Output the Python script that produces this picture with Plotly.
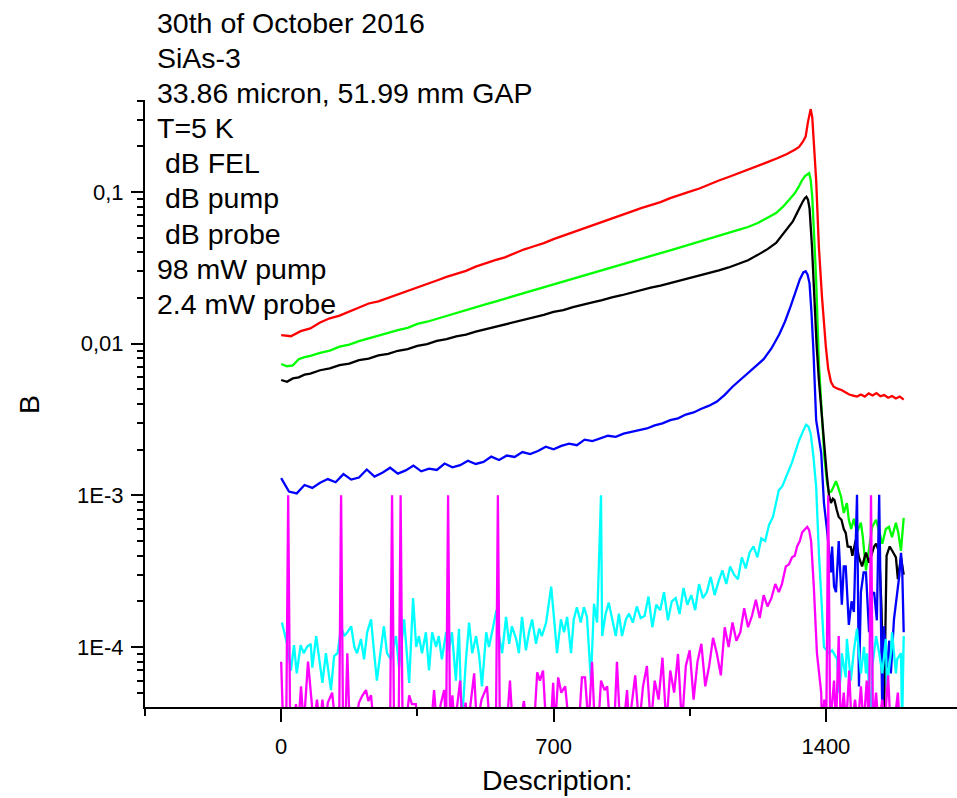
import plotly.graph_objects as go

# ---------------- data ----------------
red_x = [0, 25, 50, 75, 100, 125, 150, 175, 200, 225, 250, 275, 300, 325, 350, 375, 400, 425, 450, 475,
         500, 525, 550, 575, 600, 625, 650, 675, 700, 725, 750, 775, 800, 825, 850, 875, 900, 925, 950, 975,
         1000, 1025, 1050, 1075, 1100, 1125, 1150, 1175, 1200, 1225, 1250, 1275, 1300, 1320, 1331, 1340, 1348,
         1354, 1358, 1361, 1365, 1369, 1375, 1382, 1390, 1400, 1406, 1413, 1420, 1430, 1440, 1450, 1460, 1470,
         1480, 1490, 1500, 1510, 1520, 1530, 1540, 1550, 1560, 1570, 1580, 1590, 1600]
red_y = [0.0114, 0.0112, 0.0121, 0.0126, 0.0138, 0.0147, 0.0153, 0.0163, 0.0173, 0.0184, 0.0190, 0.0200, 0.0213,
         0.0224, 0.0235, 0.0247, 0.0261, 0.0276, 0.0289, 0.0302, 0.0322, 0.0340, 0.0355, 0.0371, 0.0396, 0.0419,
         0.0439, 0.0460, 0.0489, 0.0515, 0.0538, 0.0568, 0.0602, 0.0636, 0.0665, 0.0699, 0.0742, 0.0783, 0.0816,
         0.0858, 0.0912, 0.0963, 0.1005, 0.1055, 0.1125, 0.1190, 0.1255, 0.1325, 0.1415, 0.1490, 0.1575, 0.1670,
         0.178, 0.190, 0.198, 0.213, 0.232, 0.290, 0.335, 0.352, 0.310, 0.200, 0.120, 0.0434, 0.0203, 0.0095,
         0.0068, 0.0056, 0.0052, 0.00505, 0.00495, 0.00478, 0.00462, 0.00455, 0.00448, 0.00462, 0.00448,
         0.00470, 0.00455, 0.00472, 0.00450, 0.00458, 0.00440, 0.00452, 0.00435, 0.00448, 0.00428]

green_x = [0, 15, 30, 45, 60, 75, 100, 125, 150, 175, 200, 225, 250, 275, 300, 325, 350, 375, 400, 425, 450, 475,
           500, 525, 550, 575, 600, 625, 650, 675, 700, 725, 750, 775, 800, 825, 850, 875, 900, 925, 950, 975,
           1000, 1025, 1050, 1075, 1100, 1125, 1150, 1175, 1200, 1225, 1250, 1272, 1290, 1305, 1320, 1330, 1339,
           1347, 1352, 1357, 1361, 1365, 1370, 1375, 1382, 1390, 1396, 1403, 1408, 1414, 1420, 1426, 1432, 1439,
           1446, 1454, 1459, 1465, 1472, 1480, 1490, 1495, 1503, 1511, 1519, 1529, 1537, 1545, 1554, 1562, 1570,
           1580, 1586, 1593, 1600]
green_y = [0.00734, 0.00710, 0.00720, 0.00790, 0.00815, 0.00830, 0.00870, 0.00900, 0.00955, 0.00985, 0.01040,
           0.01085, 0.01130, 0.01185, 0.01230, 0.01270, 0.01350, 0.01395, 0.01460, 0.01525, 0.01590, 0.01655,
           0.01740, 0.01815, 0.01895, 0.01980, 0.02065, 0.02155, 0.02255, 0.02350, 0.02455, 0.02565, 0.02675,
           0.02795, 0.02915, 0.03055, 0.03185, 0.03325, 0.03475, 0.03625, 0.03785, 0.03955, 0.04125, 0.04305,
           0.04495, 0.04705, 0.04895, 0.05135, 0.05365, 0.05625, 0.05880, 0.06250, 0.06760, 0.07270, 0.08000,
           0.08900, 0.09800, 0.10800, 0.12000, 0.12800, 0.13100, 0.13300, 0.12000, 0.09270, 0.05000, 0.02630,
           0.00746, 0.00314, 0.00180, 0.00121, 0.00105, 0.00106, 0.00114, 0.00124, 0.00112, 0.00098,
           0.000765, 0.00089, 0.00069, 0.00060, 0.00070, 0.00057, 0.00066, 0.00053, 0.00032, 0.00046, 0.00062,
           0.00069, 0.00057, 0.00048, 0.00060, 0.00062, 0.00053, 0.00066, 0.00057, 0.00043, 0.00071]

black_x = [0, 15, 30, 45, 60, 75, 100, 125, 150, 175, 200, 225, 250, 275, 300, 325, 350, 375, 400, 425, 450, 475,
           500, 525, 550, 575, 600, 625, 650, 675, 700, 725, 750, 775, 800, 825, 850, 875, 900, 925, 950, 975,
           1000, 1025, 1050, 1075, 1100, 1125, 1150, 1175, 1200, 1225, 1250, 1272, 1290, 1305, 1315, 1325, 1333,
           1340, 1346, 1350, 1354, 1358, 1364, 1370, 1376, 1382, 1390, 1396, 1402, 1408, 1413, 1418, 1422, 1428,
           1433, 1440, 1446, 1451, 1456, 1464, 1468, 1477, 1485, 1493, 1503, 1511, 1524, 1529, 1537, 1543, 1549,
           1556, 1564, 1573, 1580, 1585, 1593, 1600]
black_y = [0.00576, 0.00560, 0.00590, 0.00600, 0.00625, 0.00635, 0.00668, 0.00688, 0.00722, 0.00738, 0.00778,
           0.00798, 0.00836, 0.00858, 0.00898, 0.00922, 0.00968, 0.00992, 0.01042, 0.01072, 0.01118, 0.01148,
           0.01202, 0.01246, 0.01298, 0.01336, 0.01398, 0.01436, 0.01502, 0.01546, 0.01618, 0.01666, 0.01742,
           0.01796, 0.01872, 0.01936, 0.02022, 0.02086, 0.02172, 0.02246, 0.02342, 0.02416, 0.02512, 0.02606,
           0.02712, 0.02796, 0.02920, 0.03040, 0.03180, 0.03350, 0.03550, 0.03850, 0.04200, 0.04610, 0.05300,
           0.05900, 0.06400, 0.07200, 0.08000, 0.08600, 0.09100, 0.09300, 0.08900, 0.07800, 0.04500, 0.02030,
           0.01000, 0.00576, 0.00314, 0.00200, 0.00140, 0.00100, 0.00089, 0.00095, 0.00093, 0.00080, 0.00072,
           0.00069, 0.00060, 0.000565, 0.00046, 0.000456, 0.00040, 0.00051, 0.00039, 0.00034, 0.00042, 0.00036,
           0.00046, 0.00048, 0.00042, 0.00018, 0.00003, 0.00040, 0.00046, 0.00042, 0.00039, 0.00028, 0.00039,
           0.00030]

blue_x = [0, 20, 40, 60, 80, 100, 120, 140, 160, 180, 200, 220, 240, 260, 280, 300, 320, 340, 360, 380, 400,
          420, 440, 460, 480, 500, 520, 540, 560, 580, 600, 620, 640, 660, 680, 700, 720, 740, 760, 780, 800,
          820, 840, 860, 880, 900, 920, 940, 960, 980, 1000, 1020, 1040, 1060, 1080, 1100, 1120, 1140, 1160,
          1180, 1200, 1220, 1240, 1260, 1280, 1295, 1310, 1322, 1333, 1342, 1348, 1353, 1358, 1363, 1368, 1375,
          1382, 1388, 1395, 1403, 1413, 1416, 1421, 1426, 1433, 1441, 1446, 1451, 1459, 1466, 1472, 1480, 1485,
          1490, 1497, 1503, 1511, 1518, 1524, 1531, 1537, 1545, 1549, 1557, 1563, 1567, 1575, 1583, 1589, 1593,
          1596, 1600]
blue_y = [0.00130, 0.00106, 0.00103, 0.00117, 0.00112, 0.00121, 0.00128, 0.00122, 0.00138, 0.00127, 0.00131,
          0.00148, 0.00133, 0.00141, 0.00152, 0.00139, 0.00146, 0.00157, 0.00144, 0.00150, 0.00147, 0.00162,
          0.00153, 0.00158, 0.00169, 0.00161, 0.00166, 0.00180, 0.00171, 0.00183, 0.00179, 0.00193, 0.00187,
          0.00196, 0.00209, 0.00201, 0.00212, 0.00219, 0.00214, 0.00233, 0.00228, 0.00236, 0.00247, 0.00243,
          0.00255, 0.00262, 0.00270, 0.00276, 0.00289, 0.00298, 0.00313, 0.00322, 0.00341, 0.00352, 0.00372,
          0.00390, 0.00415, 0.00460, 0.00520, 0.00575, 0.00640, 0.00710, 0.00790, 0.00930, 0.01150, 0.01400,
          0.01780, 0.02200, 0.02650, 0.02950, 0.03000, 0.02850, 0.02500, 0.01600, 0.00900, 0.00314, 0.00230,
          0.00190, 0.00089, 0.00059, 0.00031, 0.00046, 0.00025, 0.00023, 0.00050, 0.00019, 0.00034, 0.00034,
          0.00014, 0.00020, 0.00017, 0.00101, 0.000055, 0.00023, 0.00031, 0.00031, 0.000125, 0.00022, 0.00023,
          0.00015, 0.00101, 0.000035, 0.000137, 0.000073, 0.00011, 0.000067, 0.000152, 0.000228, 0.00030,
          0.000417, 0.00034, 0.000125]

cyan_x = [2, 7, 15, 25, 33, 40, 50, 58, 66, 76, 80, 90, 97, 106, 115, 123, 128, 136, 145, 154, 162, 170, 180,
          188, 195, 205, 213, 221, 231, 239, 246, 257, 264, 272, 282, 295, 303, 316, 329, 339, 347, 354, 362,
          372, 380, 388, 398, 405, 413, 424, 431, 439, 449, 457, 464, 475, 483, 491, 501, 509, 516, 527, 534,
          542, 553, 560, 568, 578, 586, 593, 604, 611, 619, 629, 637, 645, 655, 663, 670, 681, 694, 701, 709,
          719, 727, 735, 745, 752, 760, 770, 778, 786, 796, 804, 812, 822, 825, 834, 842, 851, 860, 868, 876,
          886, 894, 904, 914, 924, 934, 944, 954, 964, 974, 984, 994, 1004, 1014, 1024, 1034, 1044, 1054, 1064,
          1074, 1084, 1094, 1104, 1114, 1124, 1134, 1144, 1154, 1164, 1174, 1184, 1194, 1204, 1214, 1224, 1234,
          1244, 1254, 1264, 1272, 1279, 1288, 1297, 1305, 1313, 1322, 1331, 1340, 1349, 1355, 1361, 1368, 1375,
          1382, 1390, 1395, 1402, 1408, 1416, 1429, 1433, 1439, 1441, 1451, 1454, 1464, 1472, 1480, 1485, 1490,
          1498, 1503, 1506, 1516, 1519, 1529, 1537, 1545, 1554, 1557, 1567, 1570, 1580, 1583, 1593, 1596, 1600]
cyan_y = [1.45e-4, 1.26e-4, 1.05e-4, 7.0e-5, 1.03e-4, 6.7e-5, 1.03e-4, 9.1e-5, 1.0e-4, 1.05e-4, 7.3e-5, 1.18e-4,
          8.3e-5, 5.8e-5, 9.1e-5, 6.3e-5, 5.2e-5, 8.7e-5, 9.1e-5, 1.37e-4, 1.18e-4, 1.25e-4, 1.37e-4, 1.0e-4,
          9.1e-5, 1.13e-4, 8.3e-5, 1.25e-4, 1.52e-4, 9.1e-5, 6.0e-5, 1.0e-4, 1.37e-4, 9.1e-5, 8.3e-5, 1.18e-4,
          7.3e-5, 1.52e-4, 5.8e-5, 2.1e-4, 1.0e-4, 1.18e-4, 9.1e-5, 1.25e-4, 7.0e-5, 1.25e-4, 1.0e-4, 1.18e-4,
          8.3e-5, 1.25e-4, 9.5e-5, 1.25e-4, 6.0e-5, 1.32e-4, 3.0e-5, 8.3e-5, 1.45e-4, 9.1e-5, 1.18e-4, 8.7e-5,
          5.5e-5, 1.25e-4, 1.0e-4, 1.25e-4, 1.75e-4, 1.18e-4, 9.1e-5, 1.58e-4, 1.05e-4, 1.37e-4, 1.13e-4,
          9.1e-5, 1.58e-4, 9.5e-5, 1.25e-4, 1.52e-4, 1.05e-4, 1.32e-4, 1.18e-4, 1.45e-4, 2.5e-4, 1.58e-4,
          9.1e-5, 1.52e-4, 1.25e-4, 1.58e-4, 9.1e-5, 1.52e-4, 1.83e-4, 1.45e-4, 1.83e-4, 1.58e-4, 6.0e-5,
          1.93e-4, 1.45e-4, 1.0e-3, 1.18e-4, 1.66e-4, 1.96e-4, 1.52e-4, 1.18e-4, 1.66e-4, 1.18e-4, 1.52e-4,
          1.66e-4, 1.45e-4, 1.85e-4, 1.55e-4, 1.6e-4, 2.15e-4, 1.35e-4, 1.9e-4, 1.75e-4, 2.3e-4, 1.5e-4,
          2.0e-4, 2.1e-4, 1.65e-4, 2.45e-4, 1.9e-4, 2.2e-4, 1.75e-4, 2.6e-4, 2.1e-4, 2.3e-4, 2.9e-4, 2.2e-4,
          2.7e-4, 3.2e-4, 2.6e-4, 3.4e-4, 3.0e-4, 2.8e-4, 3.9e-4, 3.3e-4, 4.2e-4, 4.6e-4, 3.9e-4, 5.2e-4,
          5.0e-4, 6.4e-4, 7.2e-4, 9.0e-4, 1.08e-3, 1.15e-3, 1.30e-3, 1.45e-3, 1.65e-3, 1.95e-3, 2.30e-3,
          2.60e-3, 2.92e-3, 2.85e-3, 2.55e-3, 1.80e-3, 1.14e-3, 4.2e-4, 1.55e-4, 1.0e-4, 9.5e-5, 9.1e-5,
          9.5e-5, 8.3e-5, 5.0e-5, 6.7e-5, 9.1e-5, 6.3e-5, 1.13e-4, 6.0e-5, 9.5e-5, 1.32e-4, 9.1e-5, 6.7e-5,
          1.0e-4, 6.7e-5, 9.1e-5, 3.0e-5, 7.3e-5, 1.18e-4, 9.1e-5, 6.7e-5, 1.13e-4, 5.5e-5, 9.1e-5, 1.25e-4,
          6.7e-5, 8.3e-5, 9.1e-5, 3.0e-5, 1.18e-4]

magenta_x = [0, 5, 13, 18, 23, 32, 38, 44, 51, 58, 69, 76, 84, 92, 99, 106, 113, 120, 131, 140, 149, 154, 159,
             165, 170, 176, 190, 200, 209, 218, 224, 231, 238, 280, 285, 290, 302, 307, 312, 320, 329, 336, 346,
             352, 385, 393, 400, 410, 419, 424, 429, 434, 440, 446, 460, 466, 474, 480, 496, 503, 515, 529, 536,
             552, 557, 562, 580, 588, 595, 612, 624, 630, 650, 658, 665, 673, 681, 693, 699, 704, 712, 720, 730,
             740, 765, 773, 781, 790, 799, 806, 815, 822, 831, 838, 845, 856, 863, 871, 880, 889, 894, 900, 910,
             920, 930, 940, 950, 960, 970, 980, 990, 1000, 1010, 1020, 1030, 1040, 1050, 1060, 1070, 1080, 1090,
             1100, 1110, 1120, 1130, 1140, 1150, 1160, 1170, 1180, 1190, 1200, 1210, 1220, 1230, 1240, 1250,
             1260, 1270, 1279, 1287, 1297, 1305, 1313, 1320, 1326, 1333, 1339, 1346, 1352, 1357, 1362, 1369,
             1377, 1388, 1390, 1396, 1401, 1406, 1411, 1421, 1426, 1433, 1438, 1446, 1452, 1460, 1466, 1475,
             1482, 1490, 1497, 1505, 1511, 1516, 1521, 1529, 1535, 1545, 1551, 1560, 1566, 1575, 1585, 1590, 1600]
magenta_y = [8.0e-5, 3e-5, 3e-5, 1.0e-3, 3e-5, 3e-5, 4.2e-5, 3e-5, 5.5e-5, 3e-5, 8.0e-5, 5.0e-5, 3e-5, 4.5e-5,
             3e-5, 4.5e-5, 3e-5, 4.3e-5, 5.0e-5, 3e-5, 3e-5, 1.0e-3, 3e-5, 3e-5, 9.1e-5, 3e-5, 3e-5, 4.3e-5,
             4.8e-5, 5.2e-5, 4.4e-5, 4.8e-5, 3e-5, 3e-5, 1.0e-3, 3e-5, 3e-5, 1.0e-3, 3e-5, 3e-5, 4.8e-5, 4.2e-5,
             4.2e-5, 3e-5, 3e-5, 5.2e-5, 3e-5, 4.2e-5, 5.2e-5, 3e-5, 1.0e-3, 3e-5, 4.8e-5, 3e-5, 6.0e-5, 3e-5,
             4.3e-5, 3e-5, 6.7e-5, 3e-5, 4.5e-5, 5.5e-5, 3e-5, 3e-5, 1.0e-3, 3e-5, 3e-5, 6.0e-5, 3e-5, 3e-5,
             4.4e-5, 3e-5, 3e-5, 6.8e-5, 6.0e-5, 7.0e-5, 3e-5, 3e-5, 5.8e-5, 3e-5, 6.3e-5, 5.0e-5, 5.5e-5, 3e-5,
             3e-5, 6.3e-5, 6.3e-5, 3e-5, 8.0e-5, 3e-5, 3e-5, 6.0e-5, 5.2e-5, 5.5e-5, 3e-5, 3e-5, 8.0e-5, 3e-5,
             3e-5, 5.2e-5, 3e-5, 4e-5, 6.5e-5, 3e-5, 5.5e-5, 7.5e-5, 3e-5, 6e-5, 4.5e-5, 8.5e-5, 3e-5, 7e-5,
             5e-5, 9e-5, 3e-5, 7.5e-5, 9.5e-5, 4.5e-5, 8e-5, 1.05e-4, 5.5e-5, 7.5e-5, 1.15e-4, 9e-5, 6.5e-5,
             1.35e-4, 1.0e-4, 1.45e-4, 1.1e-4, 1.25e-4, 1.8e-4, 1.35e-4, 1.6e-4, 2.05e-4, 1.55e-4, 2.2e-4,
             1.85e-4, 2.1e-4, 2.6e-4, 2.3e-4, 2.6e-4, 3.4e-4, 3.5e-4, 3.9e-4, 4.0e-4, 4.6e-4, 5.0e-4, 5.7e-4,
             6.0e-4, 6.2e-4, 5.9e-4, 5.0e-4, 2.5e-4, 9.1e-5, 5e-5, 3e-5, 4.5e-5, 3e-5, 1.0e-3, 3e-5, 6e-5, 3e-5,
             1.18e-4, 3e-5, 5e-5, 3e-5, 7e-5, 3e-5, 4.5e-5, 3e-5, 5.5e-5, 3e-5, 6e-5, 3e-5, 1.0e-3, 3e-5, 5e-5,
             3e-5, 4.5e-5, 3e-5, 6.5e-5, 3e-5, 3e-5, 5e-5, 3e-5, 3e-5]

series = [
    ("dB FEL", red_x, red_y, "#FF0000"),
    ("dB pump", green_x, green_y, "#00FF00"),
    ("dB probe", black_x, black_y, "#000000"),
    ("blue", blue_x, blue_y, "#0000FF"),
    ("cyan", cyan_x, cyan_y, "#00FFFF"),
    ("magenta", magenta_x, magenta_y, "#FF00FF"),
]

x_ticks = [0, 700, 1400]
x_minor = [-350, 350, 1050]
y_ticks = [1e-4, 1e-3, 1e-2, 1e-1]
y_ticktext = ["1E-4", "1E-3", "0,01", "0,1"]
info_lines = ["30th of October 2016", "SiAs-3", "33.86 micron, 51.99 mm GAP", "T=5 K",
              "\u00a0dB FEL", "\u00a0dB pump", "\u00a0dB probe", "98 mW pump", "2.4 mW probe"]

# ---------------- figure ----------------
FONT = "Liberation Sans, Arial, sans-serif"
PLOT_TOP, PLOT_H, PLOT_L, PLOT_W = 100, 607, 145, 812

fig = go.Figure()
for name, xs, ys, col in series:
    fig.add_trace(go.Scatter(x=xs, y=ys, mode="lines", name=name,
                             line=dict(color=col, width=2.3), showlegend=False))

y_minor = [m * 10.0 ** e for e in range(-5, 0) for m in range(2, 10)]
y_minor = [v for v in y_minor if 4.0e-5 <= v <= 0.41]

fig.update_layout(
    width=957, height=798,
    margin=dict(l=PLOT_L, r=0, t=PLOT_TOP, b=798 - PLOT_TOP - PLOT_H),
    paper_bgcolor="white", plot_bgcolor="white",
    font=dict(family=FONT, color="black"),
    xaxis=dict(range=[-350, 1737], showgrid=False, zeroline=False,
               showline=True, linecolor="black", linewidth=2,
               ticks="outside", ticklen=13, tickwidth=2, tickcolor="black",
               tickmode="array", tickvals=x_ticks, ticktext=[str(v) for v in x_ticks],
               tickfont=dict(family=FONT, size=22), ticklabelstandoff=6,
               minor=dict(tickmode="array", tickvals=x_minor, ticks="outside",
                          ticklen=7, tickwidth=2, tickcolor="black")),
    yaxis=dict(type="log", range=[-4.3956, -0.3934], showgrid=False, zeroline=False,
               showline=True, linecolor="black", linewidth=2,
               ticks="outside", ticklen=12, tickwidth=2, tickcolor="black",
               tickmode="array", tickvals=y_ticks, ticktext=y_ticktext,
               tickfont=dict(family=FONT, size=22), ticklabelstandoff=3,
               minor=dict(tickmode="array", tickvals=y_minor, ticks="outside",
                          ticklen=6, tickwidth=2, tickcolor="black")),
)

def py(pix):
    return (PLOT_TOP + PLOT_H - pix) / PLOT_H

def px(pix):
    return (pix - PLOT_L) / PLOT_W

line_tops = [5.0, 40.0, 75.0, 110.0, 145.0, 180.0, 215.5, 250.5, 285.5]
for txt, top in zip(info_lines, line_tops):
    fig.add_annotation(text=txt, xref="paper", yref="paper",
                       x=px(155), y=py(top), xanchor="left", yanchor="top", align="left",
                       showarrow=False, font=dict(family=FONT, size=28.5, color="black"))
fig.add_annotation(text="Description:", xref="paper", yref="paper",
                   x=px(557), y=py(780), xanchor="center", yanchor="middle",
                   showarrow=False, font=dict(family=FONT, size=28.5, color="black"))
fig.add_annotation(text="B", xref="paper", yref="paper", textangle=-90,
                   x=px(29), y=py(405), xanchor="center", yanchor="middle",
                   showarrow=False, font=dict(family=FONT, size=28.5, color="black"))

fig.write_html("out.html")
